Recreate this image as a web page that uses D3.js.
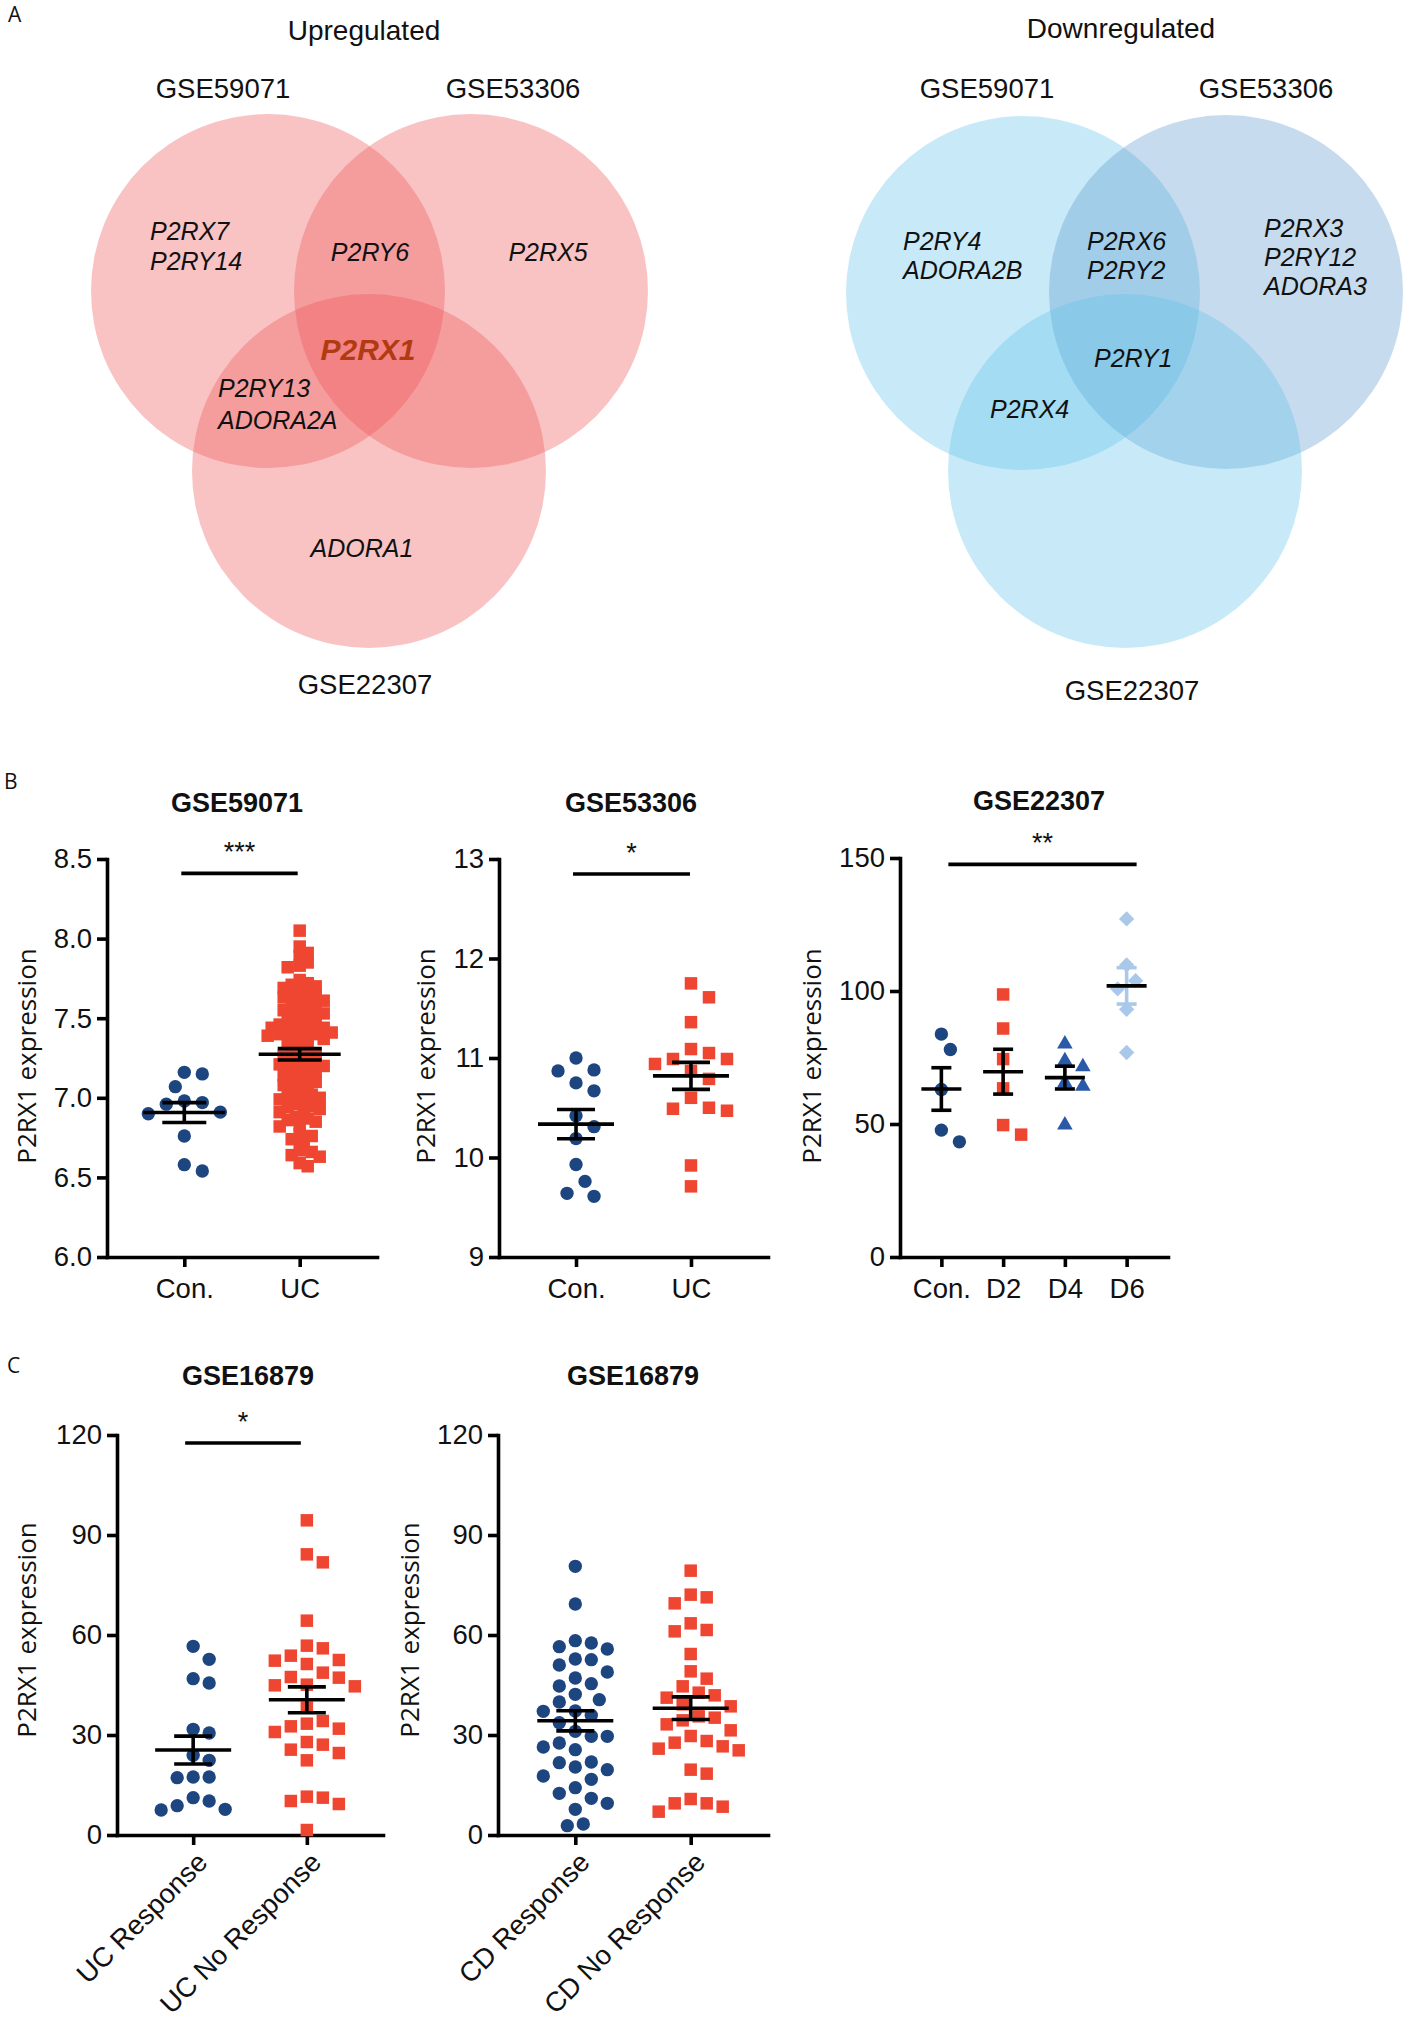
<!DOCTYPE html>
<html>
<head>
<meta charset="utf-8">
<script src="https://cdn.jsdelivr.net/npm/d3@7"></script>
<style>
  html, body { margin: 0; padding: 0; background: #fff; }
  svg { display: block; }
  text { font-family: "Liberation Sans", Arial, sans-serif; fill: #111; }
</style>
</head>
<body>
<svg id="fig" width="1404" height="2023"></svg>
<script>
(function () {
  "use strict";

  // ---- Venn data (panel A)
  const setNames = ["GSE59071", "GSE53306", "GSE22307"];
  const upGroups = [["P2RX7", "P2RY14"], ["P2RY6"], ["P2RX5"], ["P2RX1"], ["P2RY13", "ADORA2A"], ["ADORA1"]];
  const downGroups = [["P2RY4", "ADORA2B"], ["P2RX6", "P2RY2"], ["P2RX3", "P2RY12", "ADORA3"], ["P2RY1"], ["P2RX4"]];

  // ---- Scatter data (panels B, C)
  const gse59071Cats = ["Con.", "UC"];
  const gse59071Con = [7.15, 7.16, 7.07, 6.97, 6.96, 6.98, 6.91, 6.90, 6.76, 6.54, 6.58];
  const gse59071UC = [8.05, 7.95, 7.91, 7.89, 7.85, 7.83, 7.82, 7.74, 7.72, 7.71, 7.69, 7.70, 7.68,
    7.66, 7.65, 7.63, 7.62, 7.64, 7.61, 7.60, 7.58, 7.57, 7.56, 7.55, 7.54, 7.53, 7.51, 7.50, 7.49, 7.48,
    7.46, 7.45, 7.44, 7.44, 7.43, 7.45, 7.42, 7.41, 7.40, 7.39, 7.38, 7.40, 7.37, 7.39, 7.35, 7.33, 7.31,
    7.30, 7.28, 7.27, 7.26, 7.25, 7.24, 7.22, 7.21, 7.20, 7.19, 7.18, 7.21, 7.16, 7.15, 7.14, 7.13, 7.12,
    7.10, 7.09, 7.08, 7.07, 7.06, 7.03, 7.02, 7.01, 7.00, 6.99, 6.98, 6.96, 6.95, 6.94, 6.93, 6.92, 6.91,
    6.88, 6.87, 6.86, 6.85, 6.83, 6.82, 6.77, 6.76, 6.74, 6.72, 6.67, 6.66, 6.64, 6.63, 6.59, 6.57];

  const gse53306Cats = ["Con.", "UC"];
  const gse53306Con = [10.88, 10.87, 11.0, 10.67, 10.75, 10.42, 10.31, 10.19, 9.93, 9.76, 9.61, 9.64];
  const gse53306UC = [11.75, 11.61, 11.36, 11.05, 11.09, 10.99, 10.99, 10.94, 10.87, 10.79, 10.50, 10.47,
    10.49, 10.60, 9.92, 9.71];

  const gse22307Cats = ["Con.", "D2", "D4", "D6"];
  const gse22307Con = [83.8, 78.0, 63.0, 47.7, 43.3];
  const gse22307D2 = [98.7, 85.9, 74.4, 63.4, 49.6, 46.0];
  const gse22307D4 = [80.1, 73.8, 71.5, 65.5, 64.2, 49.6];
  const gse22307D6 = [127.1, 109.8, 103.9, 100.8, 93.1, 76.9];

  const ucCats = ["UC Response", "UC No Response"];
  const ucResponse = [56.6, 52.7, 45.6, 46.9, 31.7, 30.6, 23.9, 22.4, 17.4, 17.2, 17.4, 11.2, 10.2, 8.8, 7.5, 7.7];
  const ucNoResponse = [94.4, 84.2, 81.8, 64.3, 56.8, 56.0, 52.5, 51.3, 52.3, 53.8, 48.7, 47.2, 44.9, 44.6,
    45.1, 47.4, 38.2, 34.2, 33.4, 30.9, 31.9, 32.6, 27.9, 27.1, 25.6, 24.6, 22.4, 11.5, 10.2, 9.3, 11.2, 1.5];

  const cdCats = ["CD Response", "CD No Response"];
  const cdResponse = [80.6, 69.3, 55.8, 57.6, 58.3, 56.5, 52.6, 52.8, 51.0, 48.9, 47.1, 44.7, 45.4, 42.2,
    40.6, 39.9, 37.1, 37.2, 35.9, 33.7, 31.1, 29.6, 29.6, 26.4, 25.6, 27.6, 21.7, 19.6, 21.9, 20.4, 16.7,
    17.7, 14.2, 12.5, 11.0, 9.5, 7.7, 2.8, 3.3];
  const cdNoResponse = [79.3, 72.1, 69.5, 71.3, 61.5, 61.1, 63.5, 54.3, 49.1, 46.9, 44.6, 42.7, 41.2, 41.9,
    38.6, 39.2, 35.2, 33.2, 34.4, 35.6, 31.4, 28.2, 26.6, 25.4, 25.9, 27.7, 29.7, 19.6, 18.4, 10.8, 9.5,
    7.0, 8.5, 9.5];

  const ticks59071 = [6.0, 6.5, 7.0, 7.5, 8.0, 8.5];
  const ticks53306 = [9, 10, 11, 12, 13];
  const ticks22307 = [0, 50, 100, 150];
  const ticks16879 = [0, 30, 60, 90, 120];

  // ---- colours
  const navy = "#1d4580";
  const red = "#ef4632";
  const triBlue = "#2a59a8";
  const paleBlue = "#a9c8ea";

  const svg = d3.select("#fig");

  // ---------------- Panel A: Venn diagrams
  function drawVenn(cfg) {
    const g = svg.append("g");
    g.selectAll("circle")
      .data(cfg.circles)
      .join("circle")
      .attr("cx", d => d.cx)
      .attr("cy", d => d.cy)
      .attr("r", cfg.r)
      .attr("fill", d => d.fill)
      .attr("fill-opacity", 0.35);

    g.append("text")
      .attr("x", cfg.title.x).attr("y", cfg.title.y)
      .attr("text-anchor", "middle")
      .style("font-size", "28px")
      .text(cfg.title.text);

    g.selectAll("text.set")
      .data(setNames)
      .join("text")
      .attr("class", "set")
      .attr("x", (d, i) => cfg.setPos[i][0])
      .attr("y", (d, i) => cfg.setPos[i][1])
      .attr("text-anchor", "middle")
      .style("font-size", "27.5px")
      .text(d => d);

    cfg.groups.forEach((genes, i) => {
      const p = cfg.genePos[i];
      const t = g.append("text")
        .attr("x", p.x).attr("y", p.y)
        .attr("text-anchor", p.anchor)
        .style("font-style", "italic")
        .style("font-size", (p.size || 25) + "px")
        .style("font-weight", p.bold ? "bold" : null)
        .style("fill", p.color || "#111");
      genes.forEach((gene, j) => {
        t.append("tspan").attr("x", p.x).attr("dy", j === 0 ? 0 : p.lh).text(gene);
      });
    });
  }

  svg.append("text").attr("x", 8).attr("y", 22).style("font-family", "'Open Sans', sans-serif").style("font-size", "21px").text("A");

  drawVenn({
    r: 177,
    circles: [
      { cx: 268, cy: 291, fill: "rgb(238,84,86)" },
      { cx: 471, cy: 291, fill: "rgb(238,84,86)" },
      { cx: 369, cy: 471, fill: "rgb(238,84,86)" }
    ],
    title: { text: "Upregulated", x: 364, y: 40 },
    setPos: [[223, 98], [513, 98], [365, 694]],
    groups: upGroups,
    genePos: [
      { x: 150, y: 240, anchor: "start", lh: 30 },
      { x: 370, y: 261, anchor: "middle" },
      { x: 548, y: 261, anchor: "middle" },
      { x: 368, y: 360, anchor: "middle", size: 30, bold: true, color: "#b03b10" },
      { x: 218, y: 397, anchor: "start", lh: 32 },
      { x: 362, y: 557, anchor: "middle" }
    ]
  });

  drawVenn({
    r: 177,
    circles: [
      { cx: 1023, cy: 293, fill: "rgb(98,195,235)" },
      { cx: 1226, cy: 292, fill: "rgb(92,152,206)" },
      { cx: 1125, cy: 471, fill: "rgb(98,195,235)" }
    ],
    title: { text: "Downregulated", x: 1121, y: 38 },
    setPos: [[987, 98], [1266, 98], [1132, 700]],
    groups: downGroups,
    genePos: [
      { x: 903, y: 250, anchor: "start", lh: 29 },
      { x: 1087, y: 250, anchor: "start", lh: 29 },
      { x: 1264, y: 237, anchor: "start", lh: 29 },
      { x: 1094, y: 367, anchor: "start" },
      { x: 990, y: 418, anchor: "start" }
    ]
  });

  // ---------------- Panels B, C: scatter dot plots
  function swarm(values, y, cx, minDist, step) {
    const pts = values.map(v => ({ v, py: y(v) })).sort((a, b) => a.py - b.py);
    const placed = [];
    pts.forEach(p => {
      for (let k = 0; k < 400; k++) {
        const px = cx + (k % 2 ? 1 : -1) * Math.ceil(k / 2) * step;
        if (placed.every(q => Math.hypot(q.px - px, q.py - p.py) >= minDist)) {
          p.px = px;
          placed.push(p);
          break;
        }
      }
    });
    return placed;
  }

  const symbolFor = {
    circle: d3.symbol().type(d3.symbolCircle).size(140),
    square: d3.symbol().type(d3.symbolSquare).size(156),
    triangle: d3.symbol().type(d3.symbolTriangle).size(105),
    diamond: d3.symbol().type(d3.symbolSquare).size(118)
  };

  function drawScatter(cfg) {
    const g = svg.append("g");
    const x = d3.scalePoint().domain(cfg.cats).range([cfg.x0, cfg.x1]).padding(0.67);
    const y = d3.scaleLinear().domain(cfg.domain).range([cfg.yBot, cfg.yTop]);

    g.append("text")
      .attr("x", cfg.titleX).attr("y", cfg.titleY)
      .attr("text-anchor", "middle")
      .style("font-weight", "bold")
      .style("font-size", "27px")
      .text(cfg.title);

    const ya = g.append("g")
      .attr("transform", `translate(${cfg.x0},0)`)
      .call(d3.axisLeft(y).tickValues(cfg.ticks).tickFormat(cfg.fmt).tickSize(10).tickSizeOuter(0).tickPadding(5));
    const xa = g.append("g")
      .attr("transform", `translate(0,${cfg.yBot})`)
      .call(d3.axisBottom(x).tickSize(10).tickSizeOuter(0).tickPadding(11));

    [ya, xa].forEach(a => {
      a.select(".domain").attr("stroke", "#000").attr("stroke-width", 3.6).attr("stroke-linecap", "square");
      a.selectAll(".tick line").attr("stroke", "#000").attr("stroke-width", 3.6);
      a.selectAll(".tick text").attr("fill", "#111").style("font-size", "27.5px")
        .style("font-family", "'Liberation Sans', Arial, sans-serif");
    });

    if (cfg.rotateLabels) {
      xa.selectAll(".tick text").remove();
      g.selectAll("text.cat")
        .data(cfg.cats)
        .join("text")
        .attr("class", "cat")
        .attr("text-anchor", "end")
        .attr("transform", d => `translate(${x(d) + 16},${cfg.yBot + 29}) rotate(-45)`)
        .style("font-size", "27.5px")
        .text(d => d);
    }

    g.append("text")
      .attr("transform", `translate(${cfg.labelX},${cfg.labelY}) rotate(-90)`)
      .attr("text-anchor", "middle")
      .attr("dy", "0.35em")
      .style("font-family", "'Open Sans', sans-serif")
      .style("font-size", "26px")
      .text("P2RX1 expression");

    cfg.groups.forEach((grp, i) => {
      const cx = x(cfg.cats[i]);
      const pts = swarm(grp.vals, y, cx, grp.minDist || cfg.minDist, grp.step || cfg.step);
      g.append("g").selectAll("path")
        .data(pts)
        .join("path")
        .attr("d", symbolFor[grp.shape])
        .attr("transform", d => `translate(${d.px},${d.py})${grp.shape === "diamond" ? " rotate(45)" : ""}`)
        .attr("fill", grp.color);
    });

    cfg.groups.forEach((grp, i) => {
      const cx = x(cfg.cats[i]);
      const m = d3.mean(grp.vals);
      const s = d3.deviation(grp.vals) / Math.sqrt(grp.vals.length);
      const eg = g.append("g").attr("stroke-width", 3.6).attr("fill", "none");
      const ec = grp.errColor || "#000";
      eg.append("line").attr("x1", cx).attr("x2", cx).attr("y1", y(m - s)).attr("y2", y(m + s)).attr("stroke", ec);
      [m - s, m + s].forEach(v => {
        eg.append("line").attr("x1", cx - cfg.capHalf).attr("x2", cx + cfg.capHalf)
          .attr("y1", y(v)).attr("y2", y(v)).attr("stroke", ec);
      });
      eg.append("line").attr("x1", cx - cfg.meanHalf).attr("x2", cx + cfg.meanHalf)
        .attr("y1", y(m)).attr("y2", y(m)).attr("stroke", "#000");
    });

    if (cfg.sig) {
      const sy = y(cfg.sig.level);
      const xa0 = x(cfg.sig.from) + cfg.sig.pad[0];
      const xa1 = x(cfg.sig.to) + cfg.sig.pad[1];
      g.append("line").attr("x1", xa0).attr("x2", xa1).attr("y1", sy).attr("y2", sy)
        .attr("stroke", "#000").attr("stroke-width", 3.6);
      g.append("text")
        .attr("x", (xa0 + xa1) / 2).attr("y", sy - 12)
        .attr("text-anchor", "middle")
        .style("font-size", "27px")
        .text(cfg.sig.text);
    }
  }

  svg.append("text").attr("x", 4).attr("y", 789).style("font-family", "'Open Sans', sans-serif").style("font-size", "21px").text("B");
  svg.append("text").attr("x", 7).attr("y", 1373).style("font-family", "'Open Sans', sans-serif").style("font-size", "21px").text("C");

  drawScatter({
    title: "GSE59071", titleX: 237, titleY: 812,
    cats: gse59071Cats, domain: [6, 8.5], ticks: ticks59071, fmt: d3.format(".1f"),
    x0: 107, x1: 377, yTop: 859, yBot: 1257, labelX: 27, labelY: 1056,
    meanHalf: 41, capHalf: 22, minDist: 16, step: 9,
    groups: [
      { vals: gse59071Con, shape: "circle", color: navy },
      { vals: gse59071UC, shape: "square", color: red, minDist: 8.4, step: 4 }
    ],
    sig: { from: "Con.", to: "UC", level: 8.41, text: "***", pad: [-3, -2] }
  });

  drawScatter({
    title: "GSE53306", titleX: 631, titleY: 812,
    cats: gse53306Cats, domain: [9, 13], ticks: ticks53306, fmt: d3.format("d"),
    x0: 499, x1: 768, yTop: 859, yBot: 1257, labelX: 426, labelY: 1056,
    meanHalf: 38, capHalf: 19, minDist: 17, step: 9,
    groups: [
      { vals: gse53306Con, shape: "circle", color: navy },
      { vals: gse53306UC, shape: "square", color: red }
    ],
    sig: { from: "Con.", to: "UC", level: 12.85, text: "*", pad: [-3, -1] }
  });

  drawScatter({
    title: "GSE22307", titleX: 1039, titleY: 810,
    cats: gse22307Cats, domain: [0, 150], ticks: ticks22307, fmt: d3.format("d"),
    x0: 900, x1: 1168, yTop: 858, yBot: 1257, labelX: 812, labelY: 1056,
    meanHalf: 20, capHalf: 10, minDist: 16, step: 9,
    groups: [
      { vals: gse22307Con, shape: "circle", color: navy },
      { vals: gse22307D2, shape: "square", color: red },
      { vals: gse22307D4, shape: "triangle", color: triBlue },
      { vals: gse22307D6, shape: "diamond", color: paleBlue, errColor: paleBlue }
    ],
    sig: { from: "Con.", to: "D6", level: 147.6, text: "**", pad: [7, 10] }
  });

  drawScatter({
    title: "GSE16879", titleX: 248, titleY: 1385,
    cats: ucCats, domain: [0, 120], ticks: ticks16879, fmt: d3.format("d"),
    x0: 117, x1: 383, yTop: 1435, yBot: 1835, labelX: 27, labelY: 1630,
    meanHalf: 38, capHalf: 19, minDist: 16, step: 8, rotateLabels: true,
    groups: [
      { vals: ucResponse, shape: "circle", color: navy },
      { vals: ucNoResponse, shape: "square", color: red }
    ],
    sig: { from: "UC Response", to: "UC No Response", level: 117.6, text: "*", pad: [-8, -6] }
  });

  drawScatter({
    title: "GSE16879", titleX: 633, titleY: 1385,
    cats: cdCats, domain: [0, 120], ticks: ticks16879, fmt: d3.format("d"),
    x0: 498, x1: 768, yTop: 1435, yBot: 1835, labelX: 410, labelY: 1630,
    meanHalf: 38, capHalf: 19, minDist: 16, step: 8, rotateLabels: true,
    groups: [
      { vals: cdResponse, shape: "circle", color: navy },
      { vals: cdNoResponse, shape: "square", color: red }
    ]
  });
})();
</script>
</body>
</html>
